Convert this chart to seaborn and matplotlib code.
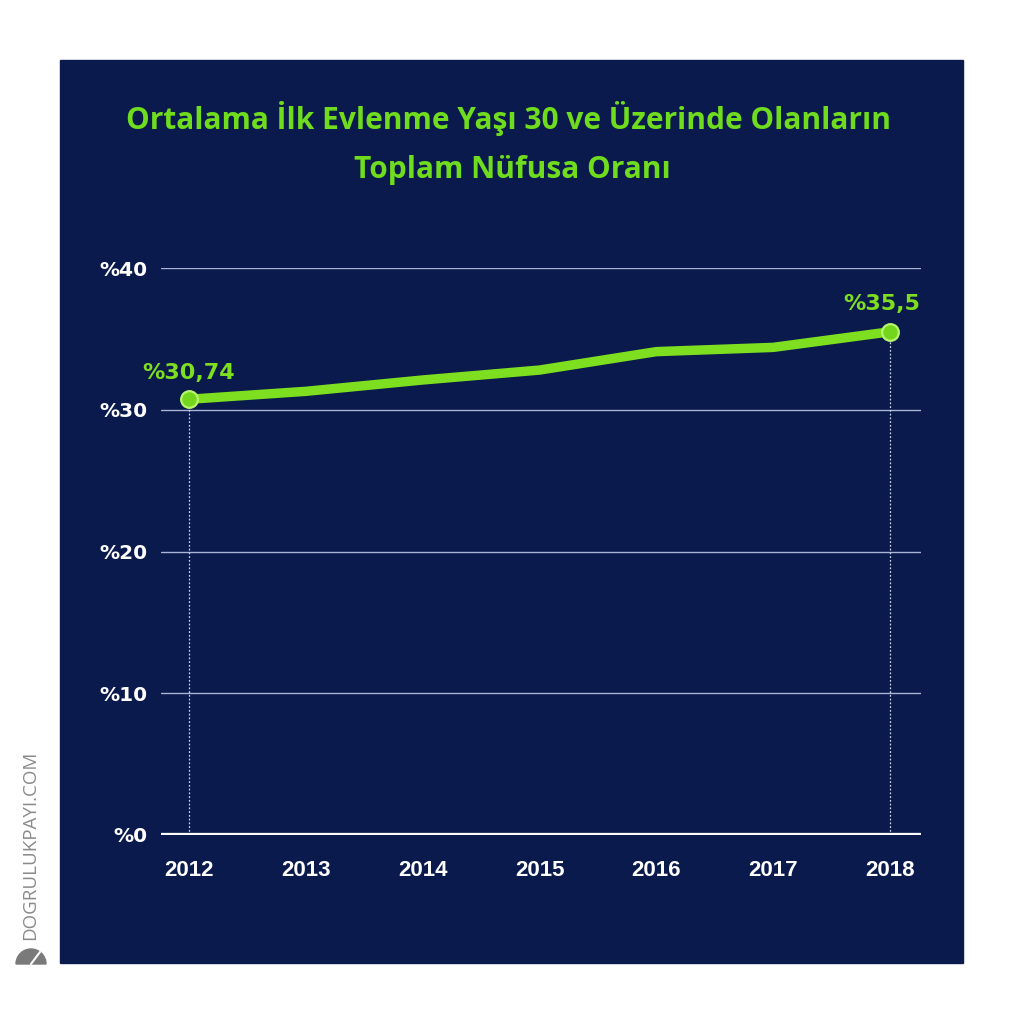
import matplotlib.pyplot as plt
import matplotlib.patches as mpatches
import seaborn as sns
import pandas as pd

# veriler
years = [2012, 2013, 2014, 2015, 2016, 2017, 2018]
ratio = [30.74, 31.3, 32.1, 32.8, 34.1, 34.4, 35.5]
y_ticks = [0, 10, 20, 30, 40]
y_tick_labels = ['%0', '%10', '%20', '%30', '%40']
end_labels = ['%30,74', '%35,5']
title_1 = 'Ortalama İlk Evlenme Yaşı 30 ve Üzerinde Olanların'
title_2 = 'Toplam Nüfusa Oranı'
watermark = 'DOGRULUKPAYI.COM'

NAVY = '#0a1a4c'
GREEN = '#7ddf1f'
GRID = '#a9b3d6'

sns.set_style('white')
plt.rcParams['font.family'] = ['DejaVu Sans']

df = pd.DataFrame({'year': years, 'ratio': ratio})

fig = plt.figure(figsize=(10.24, 10.24), dpi=100)
fig.patch.set_facecolor('white')

# lacivert panel
panel = mpatches.Rectangle((60 / 1024, 61 / 1024), 903 / 1024, 903 / 1024,
                           transform=fig.transFigure, color=NAVY, zorder=-10)
fig.patches.append(panel)

# logo (yaklaşık)
logo = mpatches.Wedge((31 / 1024, 1 - 964 / 1024), 15 / 1024, 0, 180,
                      transform=fig.transFigure, color='#7a7a7a', zorder=-5)
fig.patches.append(logo)
fig.lines.append(plt.Line2D([31 / 1024, 40 / 1024], [1 - 964 / 1024, 1 - 952 / 1024],
                            transform=fig.transFigure, color='white', linewidth=1.5))

ax = fig.add_axes([161 / 1024, 1 - 835 / 1024, 760 / 1024, 567 / 1024])
ax.set_facecolor(NAVY)
ax.patch.set_alpha(0)

sns.lineplot(data=df, x='year', y='ratio', ax=ax, color=GREEN, linewidth=6.8,
             solid_capstyle='round', solid_joinstyle='round', zorder=3, clip_on=False)

# uç noktalar
ends = df.iloc[[0, -1]]
ax.plot(ends['year'], ends['ratio'], 'o', markersize=12, markerfacecolor='#74d61c',
        markeredgecolor='#b8f56e', markeredgewidth=1.6, zorder=4, clip_on=False)
ax.vlines(ends['year'], 0, ends['ratio'], colors='#c9d0e8', linestyles=(0, (1.5, 1.5)),
          linewidth=0.9, zorder=2)

ax.annotate(end_labels[0], (years[0], ratio[0]), xytext=(0, 12), textcoords='offset points',
            ha='center', va='bottom', color=GREEN, fontsize=16, fontweight='bold')
ax.annotate(end_labels[1], (years[-1], ratio[-1]), xytext=(-6, 13), textcoords='offset points',
            ha='center', va='bottom', color=GREEN, fontsize=16, fontweight='bold')

ax.set_xlim(2011.76, 2018.265)
ax.set_ylim(0, 40)
ax.set_yticks(y_ticks)
ax.set_yticklabels(y_tick_labels)
ax.set_xticks(years)
ax.set_xticklabels([str(y) for y in years])
ax.tick_params(axis='y', length=0, pad=10, labelsize=14.5, labelcolor='white')
ax.tick_params(axis='x', length=0, pad=18, labelsize=16, labelcolor='white')
for lab in ax.get_yticklabels():
    lab.set_fontweight('bold')
for lab in ax.get_xticklabels():
    lab.set_fontweight('bold')
    lab.set_family('Liberation Sans')

for v in y_ticks[1:]:
    ax.axhline(v, color=GRID, linewidth=1, zorder=1)
ax.axhline(0, color='white', linewidth=3.8, zorder=2)
ax.set_xlabel('')
ax.set_ylabel('')
sns.despine(ax=ax, left=True, bottom=True)

fig.text(508 / 1024, 1 - 118 / 1024, title_1, ha='center', va='center', color='#6fdc1e',
         fontsize=21.5, fontweight='bold', family='Open Sans')
fig.text(512 / 1024, 1 - 170 / 1024, title_2, ha='center', va='center', color='#6fdc1e',
         fontsize=21.5, fontweight='bold', family='Open Sans')

fig.text(30 / 1024, 1 - 845 / 1024, watermark, rotation=90, ha='center', va='center',
         color='#8a8a8a', fontsize=13.5, family='Open Sans')

fig.savefig('out.png', dpi=100, facecolor='white')
